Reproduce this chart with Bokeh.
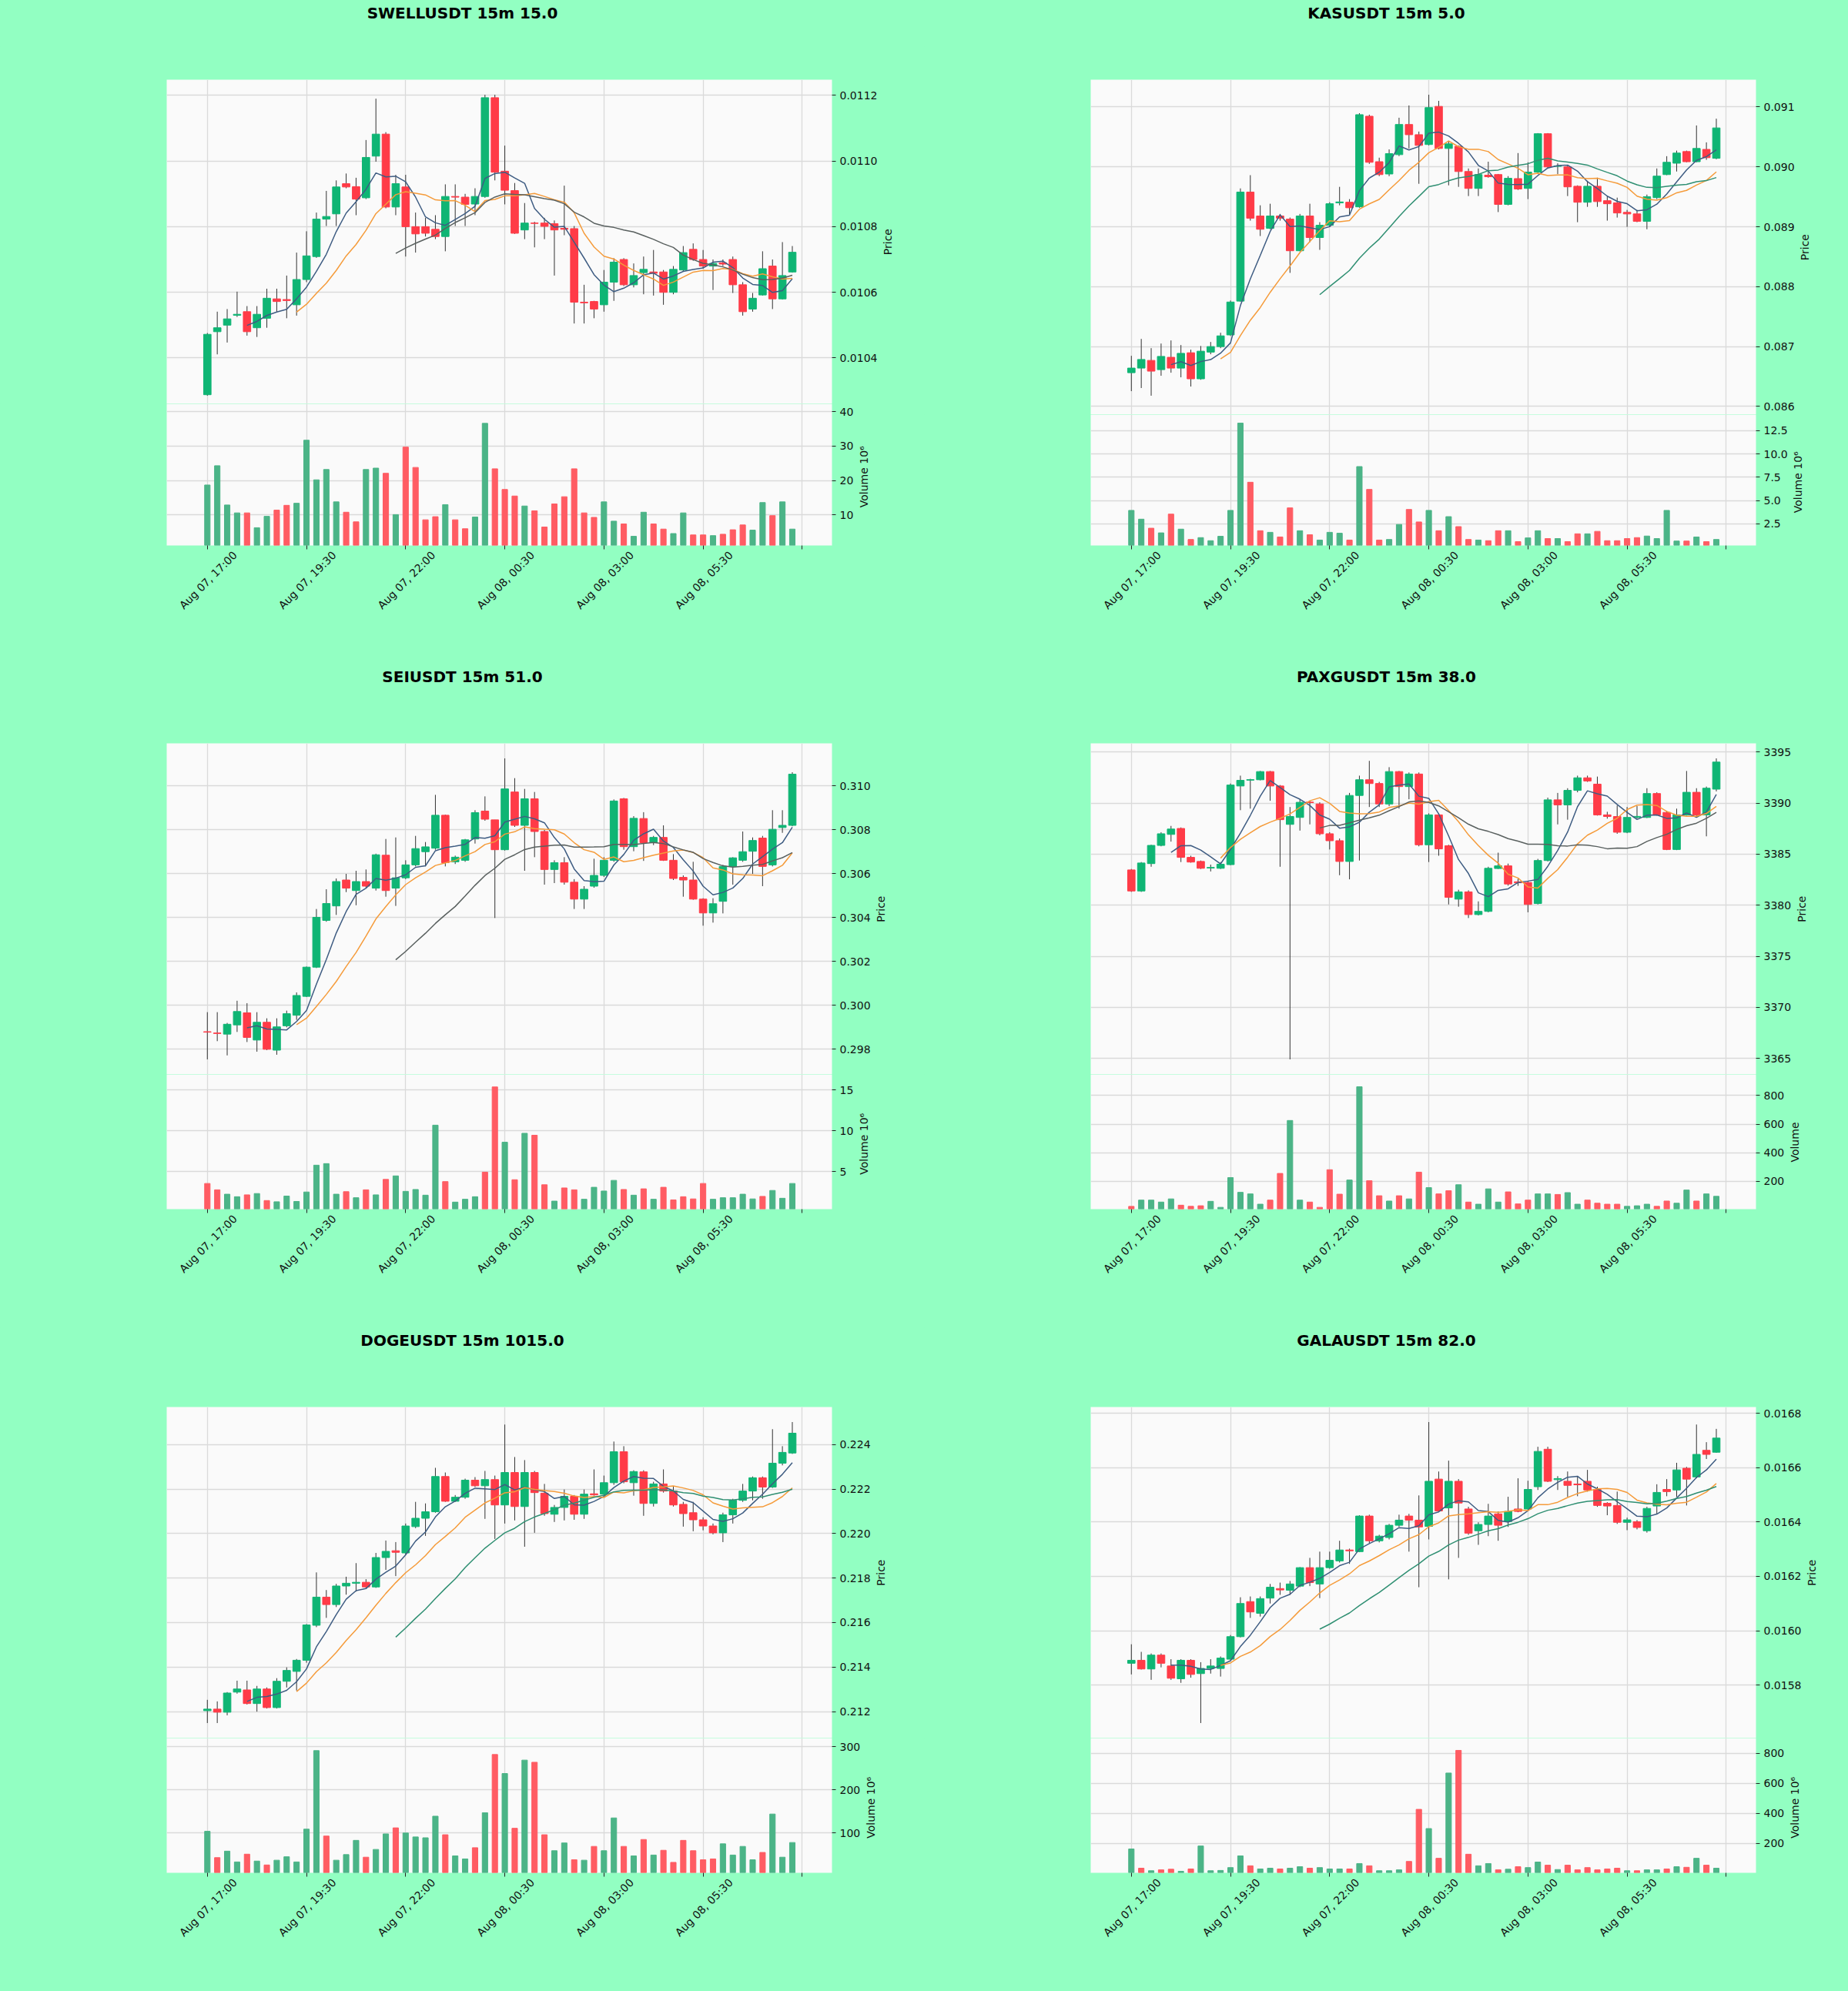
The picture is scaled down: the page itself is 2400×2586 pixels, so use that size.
import math
import pandas as pd
from bokeh.plotting import figure
from bokeh.models import Range1d, FixedTicker, ColumnDataSource, Grid, PrintfTickFormatter, LinearAxis
from bokeh.layouts import row, column
from bokeh.core.properties import value
from bokeh.embed import file_html
from bokeh.resources import INLINE

PAGE_BG = "#92FFC2"
AX_BG = "#FAFAFA"
GRID = "#DADADA"
UP = "#0FB574"
DOWN = "#FF3B47"
VUP = "#4BB487"
VDOWN = "#FF5C63"
WICK = "#333333"
MA_SHORT = "#3E5C82"
MA_MID = "#F59B3A"
MA_GRAY = "#59605F"
MA_TEAL = "#2F8F72"
FONT = "DejaVu Sans"

x_ticks = [0, 10, 20, 30, 40, 50, 60]
x_tick_labels = ["Aug 07, 17:00", "Aug 07, 19:30", "Aug 07, 22:00", "Aug 08, 00:30",
                 "Aug 08, 03:00", "Aug 08, 05:30", ""]
ma_windows = [5, 10, 20]

# ---------------- SWELLUSDT ----------------
swell_title = "SWELLUSDT 15m 15.0"
swell_open = [0.010288, 0.010480, 0.010500, 0.010530, 0.010541, 0.010492, 0.010521, 0.010580, 0.010578, 0.010562,
              0.010639, 0.010709, 0.010823, 0.010839, 0.010931, 0.010922, 0.010888, 0.011015, 0.011082, 0.010860,
              0.010921, 0.010800, 0.010800, 0.010792, 0.010770, 0.010892, 0.010890, 0.010869, 0.010892, 0.011193,
              0.010969, 0.010910, 0.010790, 0.010811, 0.010811, 0.010809, 0.010795, 0.010794, 0.010570, 0.010572,
              0.010562, 0.010631, 0.010700, 0.010623, 0.010660, 0.010662, 0.010662, 0.010600, 0.010668, 0.010731,
              0.010700, 0.010680, 0.010690, 0.010700, 0.010623, 0.010549, 0.010592, 0.010680, 0.010580, 0.010662]
swell_high = [0.010476, 0.010541, 0.010549, 0.010602, 0.010558, 0.010558, 0.010611, 0.010611, 0.010651, 0.010721,
              0.010786, 0.010843, 0.010909, 0.010941, 0.010962, 0.010949, 0.011064, 0.011190, 0.011088, 0.010958,
              0.010958, 0.010843, 0.010827, 0.010835, 0.010929, 0.010929, 0.010900, 0.010917, 0.011202, 0.011202,
              0.011047, 0.010933, 0.010872, 0.010815, 0.010827, 0.010819, 0.010925, 0.010802, 0.010623, 0.010574,
              0.010668, 0.010704, 0.010704, 0.010688, 0.010709, 0.010729, 0.010668, 0.010680, 0.010741, 0.010749,
              0.010729, 0.010700, 0.010700, 0.010709, 0.010631, 0.010598, 0.010725, 0.010700, 0.010753, 0.010741]
swell_low = [0.010285, 0.010411, 0.010447, 0.010525, 0.010468, 0.010464, 0.010492, 0.010541, 0.010521, 0.010529,
             0.010631, 0.010705, 0.010802, 0.010802, 0.010917, 0.010835, 0.010884, 0.010998, 0.010856, 0.010835,
             0.010709, 0.010721, 0.010770, 0.010762, 0.010725, 0.010802, 0.010802, 0.010835, 0.010888, 0.010941,
             0.010868, 0.010778, 0.010762, 0.010737, 0.010762, 0.010651, 0.010774, 0.010505, 0.010505, 0.010521,
             0.010541, 0.010574, 0.010619, 0.010615, 0.010594, 0.010590, 0.010562, 0.010594, 0.010664, 0.010696,
             0.010672, 0.010607, 0.010680, 0.010598, 0.010529, 0.010541, 0.010590, 0.010549, 0.010578, 0.010660]
swell_close = [0.010472, 0.010492, 0.010519, 0.010533, 0.010480, 0.010533, 0.010582, 0.010572, 0.010575, 0.010639,
               0.010711, 0.010823, 0.010831, 0.010921, 0.010921, 0.010884, 0.011011, 0.011082, 0.010860, 0.010931,
               0.010800, 0.010778, 0.010780, 0.010770, 0.010892, 0.010890, 0.010868, 0.010892, 0.011193, 0.010966,
               0.010911, 0.010780, 0.010811, 0.010810, 0.010801, 0.010790, 0.010792, 0.010570, 0.010568, 0.010549,
               0.010631, 0.010692, 0.010623, 0.010651, 0.010670, 0.010658, 0.010600, 0.010670, 0.010721, 0.010700,
               0.010680, 0.010688, 0.010686, 0.010623, 0.010541, 0.010582, 0.010672, 0.010580, 0.010651, 0.010722]
swell_volume = [18.7, 24.3, 12.9, 10.6, 10.6, 6.3, 9.6, 11.4, 12.8, 13.4,
                31.7, 20.2, 23.2, 13.8, 10.8, 8.0, 23.2, 23.6, 22.1, 10.1,
                29.7, 23.8, 8.6, 9.5, 13.0, 8.6, 6.0, 9.4, 36.6, 23.4,
                17.4, 15.5, 12.6, 11.2, 6.5, 13.2, 15.3, 23.4, 10.6, 9.3,
                13.8, 8.2, 7.4, 3.8, 10.8, 7.4, 5.9, 4.6, 10.6, 4.2,
                4.2, 4.0, 4.4, 5.7, 7.1, 5.6, 13.6, 9.8, 13.8, 5.9]
swell_price_ticks = [0.0104, 0.0106, 0.0108, 0.0110, 0.0112]
swell_volume_ticks = [10, 20, 30, 40]

# ---------------- KASUSDT ----------------
kas_title = "KASUSDT 15m 5.0"
kas_open = [0.086564, 0.086641, 0.086769, 0.086615, 0.086821, 0.086641, 0.086897, 0.086462, 0.086908, 0.087000,
            0.087195, 0.087759, 0.089580, 0.089180, 0.088974, 0.089180, 0.089128, 0.088600, 0.089180, 0.088821,
            0.089026, 0.089400, 0.089410, 0.089333, 0.090846, 0.090087, 0.089882, 0.090205, 0.090708, 0.090538,
            0.090374, 0.091010, 0.090308, 0.090344, 0.089923, 0.089641, 0.089862, 0.089872, 0.089374, 0.089805,
            0.089641, 0.089913, 0.090554, 0.090010, 0.090000, 0.089677, 0.089410, 0.089677, 0.089436, 0.089400,
            0.089241, 0.089215, 0.089092, 0.089487, 0.089872, 0.090062, 0.090256, 0.090087, 0.090292, 0.090144]
kas_high = [0.086846, 0.087128, 0.086974, 0.087051, 0.087103, 0.087026, 0.086949, 0.087010, 0.087077, 0.087231,
            0.087769, 0.089641, 0.089862, 0.089359, 0.089385, 0.089215, 0.089154, 0.089215, 0.089385, 0.089077,
            0.089410, 0.089667, 0.089462, 0.090897, 0.090872, 0.090154, 0.090292, 0.090821, 0.091026, 0.090590,
            0.091205, 0.091103, 0.090436, 0.090359, 0.089974, 0.089974, 0.090087, 0.089882, 0.089846, 0.090231,
            0.090077, 0.090564, 0.090564, 0.090060, 0.090026, 0.089692, 0.089769, 0.089820, 0.089513, 0.089487,
            0.089282, 0.089282, 0.089538, 0.089974, 0.090179, 0.090272, 0.090272, 0.090692, 0.090410, 0.090805]
kas_low = [0.086256, 0.086308, 0.086180, 0.086513, 0.086564, 0.086487, 0.086333, 0.086446, 0.086872, 0.086974,
           0.087179, 0.087749, 0.089103, 0.088846, 0.088959, 0.089103, 0.088231, 0.088590, 0.088744, 0.088615,
           0.089000, 0.089359, 0.089205, 0.089318, 0.090051, 0.089846, 0.089846, 0.090180, 0.090308, 0.089718,
           0.090359, 0.090292, 0.089692, 0.089667, 0.089513, 0.089513, 0.089820, 0.089246, 0.089359, 0.089615,
           0.089462, 0.089897, 0.089974, 0.089880, 0.089513, 0.089077, 0.089333, 0.089333, 0.089103, 0.089154,
           0.089000, 0.089077, 0.088959, 0.089462, 0.089862, 0.089923, 0.090077, 0.090077, 0.090118, 0.090128]
kas_close = [0.086641, 0.086785, 0.086590, 0.086836, 0.086641, 0.086887, 0.086462, 0.086923, 0.087000, 0.087179,
             0.087744, 0.089580, 0.089144, 0.088959, 0.089180, 0.089144, 0.088600, 0.089180, 0.088821, 0.089026,
             0.089385, 0.089415, 0.089318, 0.090872, 0.090077, 0.089872, 0.090221, 0.090708, 0.090538, 0.090359,
             0.090990, 0.090308, 0.090385, 0.089923, 0.089641, 0.089872, 0.089836, 0.089374, 0.089810, 0.089631,
             0.089913, 0.090554, 0.090000, 0.090015, 0.089667, 0.089410, 0.089677, 0.089421, 0.089385, 0.089231,
             0.089215, 0.089092, 0.089503, 0.089846, 0.090077, 0.090231, 0.090087, 0.090308, 0.090154, 0.090651]
kas_volume = [3.94, 3.0, 2.03, 1.53, 3.54, 1.93, 0.82, 1.02, 0.69, 1.16,
              3.94, 13.3, 6.96, 1.76, 1.59, 1.09, 4.21, 1.76, 1.33, 0.76,
              1.59, 1.49, 0.76, 8.64, 6.19, 0.76, 0.82, 2.43, 4.04, 2.70,
              3.94, 1.76, 3.27, 2.20, 0.82, 0.76, 0.69, 1.76, 1.76, 0.59,
              0.99, 1.76, 0.92, 0.92, 0.59, 1.43, 1.43, 1.69, 0.69, 0.69,
              0.92, 1.02, 1.19, 0.92, 3.94, 0.65, 0.65, 1.09, 0.59, 0.82]
kas_price_ticks = [0.086, 0.087, 0.088, 0.089, 0.090, 0.091]
kas_volume_ticks = [2.5, 5.0, 7.5, 10.0, 12.5]

# ---------------- SEIUSDT ----------------
sei_title = "SEIUSDT 15m 51.0"
sei_open = [0.29880, 0.29874, 0.29869, 0.29911, 0.29966, 0.29842, 0.29923, 0.29796, 0.29907, 0.29955,
            0.30041, 0.30174, 0.30387, 0.30453, 0.30571, 0.30523, 0.30564, 0.30534, 0.30684, 0.30534,
            0.30581, 0.30640, 0.30700, 0.30716, 0.30866, 0.30654, 0.30661, 0.30758, 0.30885, 0.30845,
            0.30709, 0.30972, 0.30820, 0.30941, 0.30792, 0.30619, 0.30650, 0.30561, 0.30484, 0.30543,
            0.30592, 0.30661, 0.30941, 0.30723, 0.30851, 0.30741, 0.30765, 0.30661, 0.30583, 0.30571,
            0.30484, 0.30421, 0.30474, 0.30633, 0.30661, 0.30702, 0.30762, 0.30640, 0.30810, 0.30820]
sei_high = [0.29969, 0.29969, 0.29920, 0.30021, 0.30010, 0.29969, 0.29941, 0.29941, 0.29976, 0.30059,
            0.30177, 0.30439, 0.30529, 0.30578, 0.30599, 0.30613, 0.30619, 0.30691, 0.30758, 0.30765,
            0.30661, 0.30772, 0.30744, 0.30959, 0.30869, 0.30682, 0.30758, 0.30889, 0.30952, 0.30845,
            0.31125, 0.31035, 0.30986, 0.30972, 0.30799, 0.30661, 0.30675, 0.30575, 0.30543, 0.30668,
            0.30675, 0.30938, 0.30945, 0.30862, 0.30880, 0.30772, 0.30820, 0.30689, 0.30592, 0.30654,
            0.30488, 0.30488, 0.30640, 0.30675, 0.30792, 0.30765, 0.30772, 0.30889, 0.30889, 0.31062]
sei_low = [0.29754, 0.29837, 0.29772, 0.29879, 0.29833, 0.29789, 0.29796, 0.29775, 0.29900, 0.29934,
           0.30038, 0.30170, 0.30381, 0.30412, 0.30516, 0.30456, 0.30536, 0.30523, 0.30495, 0.30453,
           0.30575, 0.30633, 0.30633, 0.30709, 0.30633, 0.30644, 0.30654, 0.30737, 0.30841, 0.30398,
           0.30705, 0.30813, 0.30613, 0.30675, 0.30550, 0.30557, 0.30550, 0.30439, 0.30439, 0.30536,
           0.30585, 0.30654, 0.30709, 0.30702, 0.30658, 0.30730, 0.30658, 0.30571, 0.30495, 0.30481,
           0.30363, 0.30377, 0.30419, 0.30550, 0.30654, 0.30599, 0.30543, 0.30633, 0.30786, 0.30816]
sei_close = [0.29878, 0.29872, 0.29914, 0.29972, 0.29854, 0.29923, 0.29800, 0.29902, 0.29962, 0.30045,
             0.30174, 0.30401, 0.30464, 0.30564, 0.30534, 0.30564, 0.30543, 0.30686, 0.30523, 0.30581,
             0.30640, 0.30714, 0.30722, 0.30866, 0.30650, 0.30675, 0.30754, 0.30878, 0.30848, 0.30709,
             0.30986, 0.30820, 0.30941, 0.30792, 0.30619, 0.30650, 0.30561, 0.30484, 0.30529, 0.30592,
             0.30661, 0.30931, 0.30723, 0.30852, 0.30741, 0.30765, 0.30661, 0.30578, 0.30571, 0.30484,
             0.30421, 0.30463, 0.30633, 0.30672, 0.30700, 0.30751, 0.30633, 0.30802, 0.30820, 0.31053]
sei_volume = [3.53, 2.75, 2.21, 1.90, 2.13, 2.29, 1.43, 1.28, 1.98, 1.32,
              2.48, 5.78, 5.97, 2.21, 2.52, 1.78, 2.75, 2.13, 4.03, 4.46,
              2.56, 2.79, 2.09, 10.7, 3.76, 1.24, 1.59, 1.90, 4.92, 15.4,
              8.6, 3.99, 9.7, 9.46, 3.37, 1.36, 2.98, 2.75, 1.59, 3.06,
              2.60, 3.91, 2.79, 2.09, 2.87, 1.59, 3.06, 1.51, 1.90, 1.63,
              3.53, 1.59, 1.78, 1.78, 2.21, 1.63, 1.94, 2.67, 1.71, 3.53]
sei_price_ticks = [0.298, 0.300, 0.302, 0.304, 0.306, 0.308, 0.310]
sei_volume_ticks = [5, 10, 15]

# ---------------- PAXGUSDT ----------------
paxg_title = "PAXGUSDT 15m 38.0"
paxg_open = [3383.46, 3381.40, 3384.08, 3385.86, 3386.94, 3387.52, 3384.69, 3384.29, 3383.65, 3383.62,
             3383.98, 3391.68, 3392.25, 3392.29, 3393.09, 3391.68, 3387.92, 3388.60, 3390.10, 3389.92,
             3387.00, 3386.32, 3384.29, 3390.75, 3392.29, 3391.92, 3389.92, 3393.09, 3391.62, 3392.85,
             3385.92, 3388.85, 3385.83, 3380.60, 3381.31, 3379.09, 3379.40, 3383.60, 3383.86, 3382.30,
             3382.23, 3380.17, 3384.38, 3390.32, 3389.83, 3391.25, 3392.48, 3391.86, 3388.85, 3388.69,
             3387.15, 3388.60, 3388.60, 3390.94, 3389.09, 3385.46, 3388.85, 3391.06, 3388.85, 3391.37]
paxg_high = [3383.55, 3384.23, 3385.92, 3387.15, 3387.77, 3387.62, 3384.85, 3384.38, 3383.98, 3384.23,
             3391.92, 3392.69, 3392.38, 3393.15, 3393.15, 3391.77, 3389.62, 3390.38, 3390.23, 3390.08,
             3387.15, 3386.54, 3391.00, 3392.69, 3394.14, 3392.08, 3393.52, 3393.15, 3393.00, 3393.00,
             3389.00, 3389.00, 3385.92, 3381.52, 3381.46, 3380.38, 3383.77, 3385.15, 3384.08, 3382.60,
             3382.38, 3384.54, 3390.54, 3391.00, 3391.46, 3392.69, 3392.69, 3392.60, 3389.15, 3389.77,
             3389.62, 3389.71, 3391.46, 3391.06, 3389.22, 3389.46, 3393.15, 3391.46, 3391.62, 3394.38]
paxg_low = [3381.31, 3381.31, 3383.77, 3385.77, 3386.23, 3384.23, 3384.17, 3383.55, 3383.31, 3383.55,
            3383.92, 3389.31, 3389.46, 3392.23, 3390.23, 3383.77, 3364.91, 3387.31, 3387.92, 3386.85,
            3385.46, 3382.94, 3382.54, 3384.38, 3389.62, 3389.62, 3389.71, 3389.46, 3390.38, 3385.77,
            3384.23, 3384.85, 3380.08, 3379.86, 3378.75, 3379.00, 3379.31, 3383.55, 3381.92, 3381.90,
            3379.31, 3380.08, 3384.29, 3387.92, 3388.38, 3391.06, 3392.08, 3388.78, 3388.48, 3387.00,
            3387.06, 3388.50, 3388.54, 3388.78, 3385.40, 3385.40, 3388.78, 3388.69, 3386.75, 3391.15]
paxg_close = [3381.40, 3384.14, 3385.86, 3387.00, 3387.46, 3384.69, 3384.23, 3383.62, 3383.70, 3384.02,
              3391.77, 3392.23, 3392.30, 3393.09, 3391.68, 3388.38, 3388.69, 3390.08, 3390.05, 3387.00,
              3386.32, 3384.29, 3390.75, 3392.29, 3391.92, 3389.92, 3393.09, 3391.62, 3392.85, 3385.92,
              3388.85, 3385.52, 3380.78, 3381.31, 3379.09, 3379.40, 3383.62, 3383.86, 3382.08, 3382.20,
              3380.08, 3384.38, 3390.32, 3389.83, 3391.25, 3392.48, 3392.17, 3388.85, 3388.69, 3387.15,
              3388.60, 3388.70, 3390.94, 3388.85, 3385.46, 3388.85, 3391.06, 3388.85, 3391.46, 3394.02]
paxg_volume = [24.8, 68.6, 68.6, 55, 77, 33, 25, 29, 60, 18,
               226, 123, 112, 40, 68.6, 255, 625, 68.6, 55, 18,
               281, 110, 209, 861, 204, 99, 62, 99, 77, 264,
               156, 112, 134, 176, 55, 40, 147, 55, 126, 42,
               68.6, 112, 112, 108, 121, 40, 68.6, 47, 40, 40,
               25, 29, 40, 25, 62, 47, 139, 62, 112, 95]
paxg_price_ticks = [3365, 3370, 3375, 3380, 3385, 3390, 3395]
paxg_volume_ticks = [200, 400, 600, 800]

# ---------------- DOGEUSDT ----------------
doge_title = "DOGEUSDT 15m 1015.0"
doge_open = [0.212039, 0.212108, 0.211970, 0.212874, 0.212971, 0.212359, 0.213013, 0.212178, 0.213360, 0.213805,
             0.214306, 0.215878, 0.217143, 0.216810, 0.217644, 0.217769, 0.217811, 0.217602, 0.218924, 0.219230,
             0.219132, 0.220314, 0.220690, 0.220982, 0.222567, 0.221455, 0.221636, 0.222401, 0.222150, 0.222428,
             0.221288, 0.222748, 0.221218, 0.222748, 0.221817, 0.220871, 0.221177, 0.221677, 0.220871, 0.221790,
             0.221775, 0.222289, 0.223680, 0.222289, 0.222776, 0.221357, 0.222234, 0.221914, 0.221315, 0.220940,
             0.220620, 0.220342, 0.220036, 0.220843, 0.221497, 0.221914, 0.222512, 0.222095, 0.223166, 0.223624]
doge_high = [0.212526, 0.212456, 0.212874, 0.213388, 0.213388, 0.213152, 0.213082, 0.213499, 0.213986, 0.214362,
             0.215934, 0.218256, 0.217463, 0.217741, 0.218061, 0.218673, 0.217950, 0.219132, 0.219688, 0.219619,
             0.220453, 0.221427, 0.221357, 0.222957, 0.222748, 0.221733, 0.222470, 0.222540, 0.222818, 0.222609,
             0.224904, 0.223444, 0.223305, 0.222818, 0.222234, 0.221288, 0.221983, 0.221733, 0.221983, 0.222887,
             0.222609, 0.224139, 0.223930, 0.222846, 0.222846, 0.222331, 0.222887, 0.222122, 0.221427, 0.221427,
             0.220732, 0.220453, 0.220940, 0.221566, 0.222234, 0.222567, 0.222567, 0.224695, 0.223930, 0.225015]
doge_low = [0.211483, 0.211483, 0.211830, 0.212804, 0.212317, 0.211997, 0.212136, 0.212136, 0.213082, 0.212943,
            0.214195, 0.215795, 0.216212, 0.216698, 0.217255, 0.217394, 0.217533, 0.217561, 0.218367, 0.218089,
            0.219063, 0.220245, 0.219897, 0.220940, 0.221427, 0.221427, 0.221566, 0.222095, 0.220662, 0.219758,
            0.220453, 0.220593, 0.219410, 0.220036, 0.220801, 0.220523, 0.220593, 0.220621, 0.220662, 0.221706,
            0.221706, 0.222192, 0.222262, 0.221705, 0.220801, 0.221218, 0.221844, 0.221218, 0.220314, 0.220106,
            0.220147, 0.219967, 0.219619, 0.220453, 0.221427, 0.221497, 0.221566, 0.222053, 0.223068, 0.223583]
doge_close = [0.212108, 0.211970, 0.212832, 0.213013, 0.212359, 0.213013, 0.212178, 0.213360, 0.213847, 0.214306,
              0.215892, 0.217143, 0.216810, 0.217644, 0.217769, 0.217810, 0.217602, 0.218924, 0.219202, 0.219160,
              0.220342, 0.220690, 0.220982, 0.222567, 0.221455, 0.221636, 0.222401, 0.222150, 0.222428, 0.221288,
              0.222748, 0.221218, 0.222748, 0.221844, 0.220899, 0.221177, 0.221677, 0.220871, 0.221775, 0.221740,
              0.222289, 0.223680, 0.222331, 0.222790, 0.221357, 0.222234, 0.221914, 0.221288, 0.220899, 0.220620,
              0.220342, 0.220036, 0.220843, 0.221497, 0.221914, 0.222512, 0.222095, 0.223166, 0.223652, 0.224515]
doge_volume = [104, 43, 58, 33, 51, 35, 26, 37, 45, 33,
               109, 291, 93, 37, 50, 83, 44, 62, 98, 112,
               100, 91, 89, 139, 96, 47, 40, 66, 147, 282,
               238, 111, 269, 264, 96, 59, 77, 38, 37, 69,
               59, 135, 69, 47, 85, 49, 60, 32, 83, 59,
               38, 40, 75, 49, 69, 38, 55, 144, 44, 78]
doge_price_ticks = [0.212, 0.214, 0.216, 0.218, 0.220, 0.222, 0.224]
doge_volume_ticks = [100, 200, 300]

# ---------------- GALAUSDT ----------------
gala_title = "GALAUSDT 15m 82.0"
gala_open = [0.015880, 0.015891, 0.015859, 0.015910, 0.015870, 0.015823, 0.015891, 0.015842, 0.015861, 0.015861,
             0.015895, 0.015978, 0.016107, 0.016064, 0.016120, 0.016155, 0.016149, 0.016164, 0.016232, 0.016172,
             0.016232, 0.016257, 0.016297, 0.016291, 0.016422, 0.016331, 0.016343, 0.016388, 0.016422, 0.016407,
             0.016384, 0.016558, 0.016452, 0.016550, 0.016448, 0.016368, 0.016391, 0.016430, 0.016402, 0.016448,
             0.016448, 0.016530, 0.016668, 0.016556, 0.016550, 0.016540, 0.016550, 0.016520, 0.016469, 0.016461,
             0.016399, 0.016401, 0.016368, 0.016459, 0.016520, 0.016518, 0.016598, 0.016566, 0.016664, 0.016657]
gala_high = [0.015950, 0.015922, 0.015916, 0.015916, 0.015895, 0.015895, 0.015895, 0.015884, 0.015895, 0.015905,
             0.015984, 0.016123, 0.016126, 0.016126, 0.016172, 0.016177, 0.016183, 0.016234, 0.016268, 0.016291,
             0.016291, 0.016331, 0.016302, 0.016425, 0.016427, 0.016353, 0.016393, 0.016427, 0.016430, 0.016498,
             0.016768, 0.016586, 0.016626, 0.016558, 0.016456, 0.016399, 0.016467, 0.016439, 0.016493, 0.016561,
             0.016552, 0.016677, 0.016677, 0.016569, 0.016586, 0.016569, 0.016592, 0.016530, 0.016473, 0.016512,
             0.016416, 0.016407, 0.016456, 0.016539, 0.016558, 0.016618, 0.016603, 0.016759, 0.016694, 0.016743]
gala_low = [0.015839, 0.015857, 0.015819, 0.015865, 0.015819, 0.015808, 0.015827, 0.015660, 0.015842, 0.015831,
            0.015893, 0.015975, 0.016047, 0.016052, 0.016100, 0.016132, 0.016132, 0.016160, 0.016164, 0.016120,
            0.016228, 0.016251, 0.016246, 0.016289, 0.016323, 0.016325, 0.016336, 0.016382, 0.016291, 0.016160,
            0.016336, 0.016439, 0.016189, 0.016268, 0.016353, 0.016316, 0.016348, 0.016331, 0.016382, 0.016436,
            0.016444, 0.016518, 0.016547, 0.016518, 0.016493, 0.016495, 0.016512, 0.016456, 0.016425, 0.016393,
            0.016370, 0.016373, 0.016361, 0.016430, 0.016495, 0.016493, 0.016461, 0.016561, 0.016632, 0.016655]
gala_close = [0.015891, 0.015859, 0.015910, 0.015880, 0.015825, 0.015891, 0.015839, 0.015861, 0.015870, 0.015899,
              0.015978, 0.016100, 0.016069, 0.016118, 0.016160, 0.016150, 0.016172, 0.016232, 0.016177, 0.016232,
              0.016259, 0.016297, 0.016294, 0.016422, 0.016331, 0.016348, 0.016388, 0.016407, 0.016407, 0.016382,
              0.016550, 0.016441, 0.016550, 0.016470, 0.016359, 0.016391, 0.016422, 0.016388, 0.016439, 0.016439,
              0.016520, 0.016660, 0.016550, 0.016560, 0.016535, 0.016537, 0.016518, 0.016461, 0.016459, 0.016399,
              0.016408, 0.016380, 0.016450, 0.016509, 0.016512, 0.016592, 0.016558, 0.016649, 0.016649, 0.016709]
gala_volume = [163, 35, 18, 24, 28, 14, 30, 183, 18, 20,
               39, 117, 51, 30, 35, 30, 35, 45, 35, 39,
               30, 30, 30, 66, 51, 18, 18, 24, 80, 427,
               299, 101, 669, 820, 128, 51, 66, 24, 28, 45,
               39, 76, 55, 26, 55, 24, 39, 24, 30, 35,
               18, 18, 24, 24, 30, 45, 41, 101, 55, 35]
gala_price_ticks = [0.0158, 0.0160, 0.0162, 0.0164, 0.0166, 0.0168]
gala_volume_ticks = [200, 400, 600, 800]

PANEL_W = 1200
B_LEFT = 216
B_RIGHT = 120
FRAME_W = 864
TITLE_H = 60
PRICE_TOP = 43
PRICE_H = 430
VOL_H = 175
B_BOTTOM = 154
X0, X1 = -4.1, 63.0
LABEL_SHIFT = 2.8   # rotated tick labels are centred under their tick

# DejaVu Sans advance widths (em) used to centre the rotated side labels
CHAR_EM = {"P": 0.603, "r": 0.411, "i": 0.278, "c": 0.550, "e": 0.615, "V": 0.684, "o": 0.612,
           "l": 0.278, "u": 0.634, "m": 0.974, " ": 0.318, "1": 0.636, "0": 0.636, "\u2076": 0.401}


def style_axis(ax):
    ax.axis_line_color = None
    ax.major_tick_line_color = "#222222"
    ax.major_tick_out = 5
    ax.major_tick_in = 0
    ax.minor_tick_line_color = None
    ax.major_label_text_font = FONT
    ax.major_label_text_font_size = "14px"
    ax.major_label_text_color = "#111111"


def side_label(fig, text, ylo, yhi, frame_h):
    length = 14 * sum(CHAR_EM.get(ch, 0.6) for ch in text)
    t0 = (ylo + yhi) / 2 - (length / 2) * (yhi - ylo) / frame_h
    ax = LinearAxis(ticker=FixedTicker(ticks=[t0]))
    ax.major_label_overrides = {t0: text}
    ax.major_label_orientation = math.pi / 2
    ax.axis_line_color = None
    ax.major_tick_line_color = None
    ax.minor_tick_line_color = None
    ax.major_tick_out = 0
    ax.major_tick_in = 0
    ax.major_label_standoff = 11
    ax.major_label_text_font = FONT
    ax.major_label_text_font_size = "14px"
    ax.major_label_text_color = "#111111"
    fig.add_layout(ax, "right")


def make_title(text):
    t = figure(width=PANEL_W, height=TITLE_H,
               x_range=Range1d(B_LEFT, B_LEFT + FRAME_W), y_range=Range1d(0, TITLE_H),
               x_axis_location=None, y_axis_location=None, toolbar_location=None,
               output_backend="svg", min_border=0,
               min_border_left=B_LEFT, min_border_right=B_RIGHT, outline_line_color=None,
               background_fill_color=PAGE_BG, border_fill_color=PAGE_BG)
    t.grid.visible = False
    t.text(x=[PANEL_W / 2], y=[TITLE_H - 16], text=[text], text_align="center", text_baseline="middle",
           text_font=value(FONT), text_font_style="bold", text_font_size="20px", text_color="#000000")
    return t


def make_panel(title, o, h, l, c, v, pticks, pfmt, vticks, vfmt, vlabel, long_color, split):
    n = len(c)
    x = list(range(n))
    up = [cc >= oo for oo, cc in zip(o, c)]
    src = ColumnDataSource(dict(
        x=x, high=[max(a, b, d) for a, b, d in zip(h, o, c)],
        low=[min(a, b, d) for a, b, d in zip(l, o, c)],
        top=[max(a, b) for a, b in zip(o, c)], bottom=[min(a, b) for a, b in zip(o, c)],
        color=[UP if u else DOWN for u in up], vcolor=[VUP if u else VDOWN for u in up], vol=v))

    lo, hi = min(l), max(h)
    pad = 0.05 * (hi - lo)
    y0, y1 = lo - pad, hi + pad
    y0 = y0 + split / PRICE_H * (y1 - y0)
    ph = PRICE_H - split
    p = figure(frame_width=FRAME_W, frame_height=ph,
               x_range=Range1d(X0, X1), y_range=Range1d(y0, y1),
               x_axis_location=None, y_axis_location="right",
               toolbar_location=None, output_backend="svg",
               min_border_left=B_LEFT, min_border_right=B_RIGHT,
               min_border_top=PRICE_TOP, min_border_bottom=0,
               background_fill_color=AX_BG, border_fill_color=PAGE_BG, outline_line_color=None)
    p.add_layout(Grid(dimension=0, ticker=FixedTicker(ticks=x_ticks),
                      grid_line_color=GRID, grid_line_width=1.3))
    p.yaxis.ticker = FixedTicker(ticks=pticks)
    p.yaxis.formatter = PrintfTickFormatter(format=pfmt)
    style_axis(p.yaxis[0])
    p.ygrid.ticker = FixedTicker(ticks=pticks)
    p.ygrid.grid_line_color = GRID
    p.ygrid.grid_line_width = 1.3
    side_label(p, "Price", y0, y1, ph)

    p.segment(x0="x", y0="high", x1="x", y1="low", source=src, line_color=WICK, line_width=1)
    p.vbar(x="x", width=0.75, top="top", bottom="bottom", source=src,
           fill_color="color", line_color="color", line_width=1)
    cs = pd.Series(c)
    for w, col in zip(ma_windows, [MA_SHORT, MA_MID, long_color]):
        ma = cs.rolling(w).mean().to_numpy()
        p.line(x, ma, line_color=col, line_width=1.5)

    vlo, vhi = 0.3 * min(v), 1.1 * max(v)
    vhi = vhi + split / VOL_H * (vhi - vlo)
    vh = VOL_H + split
    q = figure(frame_width=FRAME_W, frame_height=vh,
               x_range=Range1d(X0, X1), y_range=Range1d(vlo, vhi),
               y_axis_location="right", toolbar_location=None, output_backend="svg",
               min_border_left=B_LEFT, min_border_right=B_RIGHT,
               min_border_top=0, min_border_bottom=B_BOTTOM,
               background_fill_color=AX_BG, border_fill_color=PAGE_BG, outline_line_color=None)
    q.vbar(x="x", width=0.55, top="vol", bottom=0, source=src,
           fill_color="vcolor", line_color="vcolor")
    label_ticks = [t + LABEL_SHIFT for t, s in zip(x_ticks, x_tick_labels) if s]
    q.xaxis.ticker = FixedTicker(ticks=label_ticks, minor_ticks=x_ticks)
    q.xaxis.major_label_overrides = {t + LABEL_SHIFT: s for t, s in zip(x_ticks, x_tick_labels) if s}
    q.xaxis.major_label_orientation = math.pi / 4
    style_axis(q.xaxis[0])
    q.xaxis.major_tick_line_color = None
    q.xaxis.minor_tick_line_color = "#222222"
    q.xaxis.minor_tick_out = 5
    q.xaxis.minor_tick_in = 0
    q.yaxis.ticker = FixedTicker(ticks=vticks)
    q.yaxis.formatter = PrintfTickFormatter(format=vfmt)
    style_axis(q.yaxis[0])
    q.xgrid.ticker = FixedTicker(ticks=x_ticks)
    q.ygrid.ticker = FixedTicker(ticks=vticks)
    for g in (q.xgrid[0], q.ygrid[0]):
        g.grid_line_color = GRID
        g.grid_line_width = 1.3
    side_label(q, vlabel, vlo, vhi, vh)

    return column(make_title(title), p, q, spacing=0)


VOL6 = "Volume  10\u2076"
specs = [
    (swell_title, swell_open, swell_high, swell_low, swell_close, swell_volume,
     swell_price_ticks, "%.4f", swell_volume_ticks, "%.0f", VOL6, MA_GRAY, 9),
    (kas_title, kas_open, kas_high, kas_low, kas_close, kas_volume,
     kas_price_ticks, "%.3f", kas_volume_ticks, "%.1f", VOL6, MA_TEAL, -5),
    (sei_title, sei_open, sei_high, sei_low, sei_close, sei_volume,
     sei_price_ticks, "%.3f", sei_volume_ticks, "%.0f", VOL6, MA_GRAY, 0),
    (paxg_title, paxg_open, paxg_high, paxg_low, paxg_close, paxg_volume,
     paxg_price_ticks, "%.0f", paxg_volume_ticks, "%.0f", "Volume", MA_GRAY, 0),
    (doge_title, doge_open, doge_high, doge_low, doge_close, doge_volume,
     doge_price_ticks, "%.3f", doge_volume_ticks, "%.0f", VOL6, MA_TEAL, 0),
    (gala_title, gala_open, gala_high, gala_low, gala_close, gala_volume,
     gala_price_ticks, "%.4f", gala_volume_ticks, "%.0f", VOL6, MA_TEAL, 0),
]

rows = []
for r in range(3):
    cells = [make_panel(*specs[r * 2 + cidx]) for cidx in range(2)]
    rows.append(row(*cells, spacing=0))
layout = column(*rows, spacing=0)

html = file_html(layout, INLINE, title="Candlestick charts")
html = html.replace("<body>", '<body style="background-color:%s;">' % PAGE_BG)
open("out.html", "w").write(html)
